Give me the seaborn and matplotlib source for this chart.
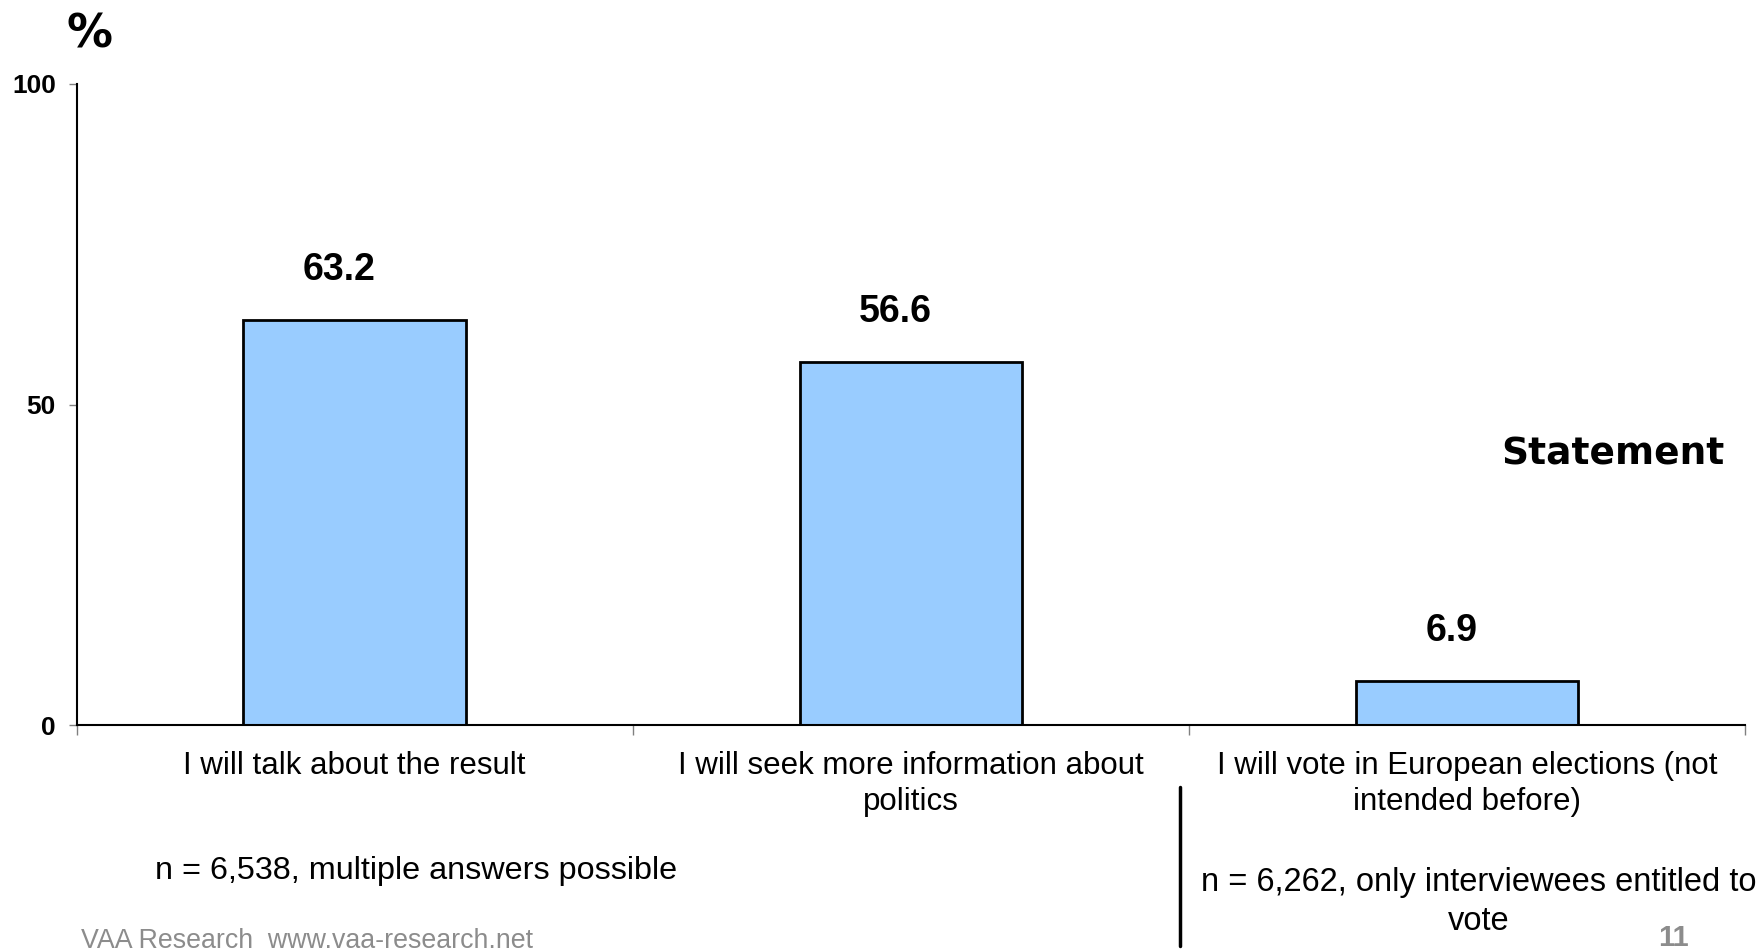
import matplotlib
matplotlib.use("Agg")
import matplotlib.pyplot as plt
import seaborn as sns
import pandas as pd

# Survey results: share of respondents agreeing with each statement
categories = [
    "I will talk about the result",
    "I will seek more information about\npolitics",
    "I will vote in European elections (not\nintended before)",
]
values = [63.2, 56.6, 6.9]
y_ticks = [0, 50, 100]

sns.set_theme(style="white")
plt.rcParams["font.family"] = ["Liberation Sans", "DejaVu Sans"]
plt.rcParams["text.color"] = "black"
plt.rcParams["xtick.color"] = "black"
plt.rcParams["ytick.color"] = "black"

df = pd.DataFrame({"statement": categories, "pct": values})

fig = plt.figure(figsize=(17.62, 9.52), dpi=100)
ax = fig.add_axes([0.0435, 0.2384, 0.9469, 0.6734])

sns.barplot(data=df, x="statement", y="pct", ax=ax, color="#99CCFF",
            edgecolor="black", linewidth=2, width=0.4, saturation=1)

ax.set_ylim(0, 100)
ax.set_xlim(-0.5, 2.5)
ax.set_yticks(y_ticks)
ax.set_yticklabels([str(t) for t in y_ticks], fontsize=19, fontweight="bold")
ax.tick_params(axis="y", length=6, width=1, color="#808080", labelcolor="black",
               pad=9, left=True)
ax.tick_params(axis="x", which="major", length=0, pad=19, labelsize=22.5,
               labelcolor="black")
ax.set_xticks([-0.5, 0.5, 1.5, 2.5], minor=True)
ax.tick_params(axis="x", which="minor", length=7, width=1, color="#808080", bottom=True)
for lbl in ax.get_xticklabels():
    lbl.set_linespacing(1.25)
ax.set_xlabel("")
ax.set_ylabel("")

for side in ("top", "right"):
    ax.spines[side].set_visible(False)
for side in ("left", "bottom"):
    ax.spines[side].set_color("black")
    ax.spines[side].set_linewidth(1.5)

# value labels above each bar
for i, v in enumerate(values):
    ax.annotate(f"{v}", xy=(i, v), xytext=(-11, 23), textcoords="offset points",
                ha="center", va="bottom", fontsize=27, fontweight="bold")

fig.text(0.051, 0.963, "%", fontsize=33, fontweight="bold", ha="center", va="center",
         family="DejaVu Sans")
fig.text(0.979, 0.523, "Statement", fontsize=27, fontweight="bold", ha="right",
         va="center", family="DejaVu Sans")

fig.text(0.236, 0.085, "n = 6,538, multiple answers possible", fontsize=23.3,
         ha="center", va="center")
fig.text(0.8394, 0.0725, "n = 6,262, only interviewees entitled to", fontsize=23.5,
         ha="center", va="center")
fig.text(0.8394, 0.032, "vote", fontsize=23.5, ha="center", va="center")
fig.text(0.046, 0.012, "VAA Research  www.vaa-research.net", fontsize=19.3,
         color="#8C8C8C", ha="left", va="center")
fig.text(0.9495, 0.015, "11", fontsize=21, color="#8C8C8C", fontweight="bold",
         ha="center", va="center")

# separator between the two sample notes
fig.add_artist(plt.Line2D([0.6697, 0.6697], [0.006, 0.173], color="black", linewidth=2.5))

fig.savefig("out.png", dpi=100)
